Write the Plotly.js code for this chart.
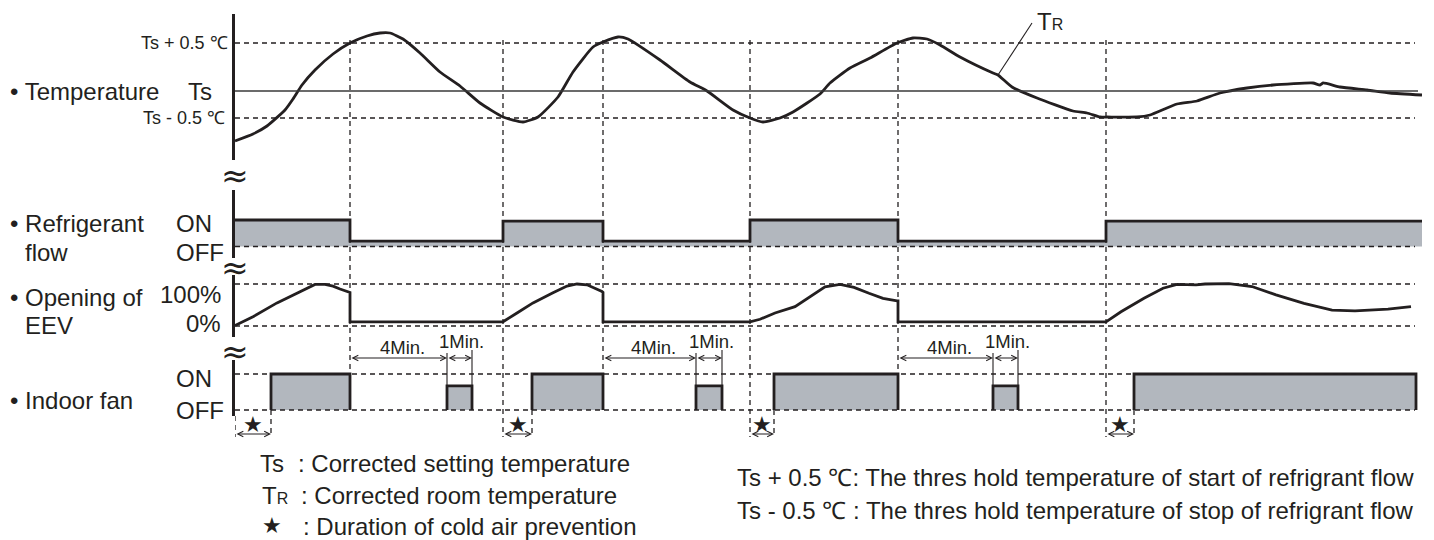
<!DOCTYPE html>
<html><head><meta charset="utf-8">
<script src="https://cdn.plot.ly/plotly-3.0.1.min.js"></script>
<style>html,body{margin:0;padding:0;background:#fff}#chart{width:1434px;height:540px}</style>
</head><body><div id="chart"></div>
<script>
// ---------------- data (time in arbitrary schematic units) ----------------
// Corrected room temperature TR, relative to Ts (schematic units)
const tempT = [0,18,32,50,58,67,80,98,115,132,145,155,168,185,205,225,245,268,288,303,323,338,358,368,383,393,425,455,472,498,515,528,545,558,585,595,615,635,662,678,692,705,725,758,763,777,802,838,852,865,872,902,915,942,962,985,1012,1038,1078,1085,1088,1105,1132,1155,1187];
const tempV = [-50,-43,-35,-19,-8,6,21,37,48,55,58,58,52,38,19,5,-12,-26,-31,-26,-6,19,44,49,54,52,31,9,0,-19,-27,-31,-27,-21,-3,8,23,33,48,53,52,46,34,18,16,4,-7,-20,-22,-26,-26,-26,-24,-13,-10,-2,3,6,8,6,8,4,1,-2,-4];
const tempLevels = [48, 0, -27];                     // Ts+0.5, Ts, Ts-0.5
const tempLabels = ['Ts + 0.5 ℃', 'Ts', 'Ts - 0.5 ℃'];

// Refrigerant flow (1 = ON, 0 = OFF line)
const refT = [0,115,268,368,515,663,871,1187];
const refV = [1,0.2,0.96,0.2,1,0.2,0.96,0.96];

// Opening of EEV (%)
const eevT = [0,18,42,65,80,90,98,105,113,115,115,268,282,298,318,332,342,352,367,368,368,515,525,540,560,577,590,605,619,634,648,662,663,663,871,886,909,928,942,961,970,994,1017,1041,1069,1097,1120,1153,1176];
const eevV = [1,22,55,82,99,99,95,88,82,80,10,10,31,55,79,95,100,98,82,80,10,10,16,31,46,72,93,99,92,78,66,60,60,10,10,34,66,90,99,98,100,101,94,74,54,38,36,40,46];

// Indoor fan pulses
const fanStart = [36,212,297,461,539,758,899];
const fanEnd   = [115,237,368,487,663,783,1181];
const fanLevel = [1,0.67,1,0.67,1,0.67,1];

// Cold air prevention durations (*)
const starStart = [0,268,515,871];
const starEnd   = [36,297,539,899];

// Refrigerant stop times (start of 4 min count)
const stopTimes = [115,368,663];
const durLabels = ['4Min.', '1Min.'];
const lineEnd = 1180;

// TR pointer: point on curve and label position
const trPoint = [763, 16];
const trLabelPos = [815, 69];

// ---------------- layout helpers ----------------
const W = 1434, H = 540, L = 235;
const INK = '#231f20';
const GREY = '#b2b7be';
const FONT = 'Liberation Sans, Arial, Helvetica, sans-serif';
const BIG = 24;
const px = xp => (xp - L) / (W - L);
const py = yp => 1 - yp / H;
function axisRange(pTop, pBot, v1, p1, v2, p2) {
  const k = (v2 - v1) / (p2 - p1);
  return [v1 + (pBot - p1) * k, v1 + (pTop - p1) * k];
}
function yax(pTop, pBot, range) {
  return {domain: [py(pBot), py(pTop)], range: range, anchor: 'x',
    showline: true, linewidth: 3, linecolor: INK, showgrid: false, zeroline: false,
    showticklabels: false, ticks: '', fixedrange: true};
}

// ---------------- traces ----------------
const traces = [];
traces.push({x: tempT, y: tempV, yaxis: 'y', type: 'scatter', mode: 'lines',
  line: {color: INK, width: 2.8, shape: 'spline', smoothing: 0.5}, hoverinfo: 'skip'});
traces.push({x: refT, y: refV, yaxis: 'y2', type: 'scatter', mode: 'lines', fill: 'tozeroy',
  fillcolor: GREY, line: {color: INK, width: 2.8, shape: 'hv'}, hoverinfo: 'skip'});
traces.push({x: eevT, y: eevV, yaxis: 'y3', type: 'scatter', mode: 'lines',
  line: {color: INK, width: 2.8}, hoverinfo: 'skip'});
for (let i = 0; i < fanStart.length; i++) {
  traces.push({x: [fanStart[i], fanStart[i], fanEnd[i], fanEnd[i]],
    y: [0, fanLevel[i], fanLevel[i], 0], yaxis: 'y4', type: 'scatter', mode: 'lines',
    fill: 'toself', fillcolor: GREY, line: {color: INK, width: 2.8}, hoverinfo: 'skip'});
}

// ---------------- shapes ----------------
const dash = {color: INK, width: 1.3, dash: '5px,4px'};
const shapes = [];
tempLevels.forEach((lv, i) => {
  shapes.push({type: 'line', xref: 'x', yref: 'y', x0: 0, x1: i === 1 ? 1183 : lineEnd, y0: lv, y1: lv,
    line: i === 1 ? {color: '#3a3a3a', width: 1.4} : dash});
});
shapes.push({type: 'line', xref: 'x', yref: 'y2', x0: 0, x1: lineEnd, y0: 0, y1: 0, line: dash});
[0, 100].forEach(v => shapes.push({type: 'line', xref: 'x', yref: 'y3', x0: 0, x1: lineEnd, y0: v, y1: v, line: dash}));
[0, 1].forEach(v => shapes.push({type: 'line', xref: 'x', yref: 'y4', x0: 0, x1: lineEnd, y0: v, y1: v, line: dash}));
for (let i = 1; i < refT.length - 1; i++) {
  const off = refV[i] < 0.5;
  shapes.push({type: 'line', xref: 'x', yref: 'paper', x0: refT[i], x1: refT[i],
    y0: py(40), y1: py(off ? 374 : 437), line: dash});
}
starEnd.forEach(t => shapes.push({type: 'line', xref: 'x', yref: 'paper', x0: t, x1: t, y0: py(410), y1: py(437), line: dash}));
shapes.push({type: 'line', xref: 'x', yref: 'paper', x0: 0, x1: 0, y0: py(416), y1: py(437), line: dash});
for (let i = 0; i < fanStart.length; i++) {
  if (fanLevel[i] < 1) {
    [fanStart[i], fanEnd[i]].forEach((t, j) => shapes.push({type: 'line', xref: 'x', yref: 'paper',
      x0: t, x1: t, y0: py(j === 0 ? 353 : 350), y1: py(386), line: {color: INK, width: 1.1}}));
  }
}
shapes.push({type: 'line', xref: 'x', yref: 'y', x0: trPoint[0], y0: trPoint[1], x1: trLabelPos[0] - 18, y1: trLabelPos[1] - 1,
  line: {color: INK, width: 1.1}});

// ---------------- annotations ----------------
const ann = [];
function lab(text, xp, yp, anchor, size, fam) {
  ann.push({xref: 'paper', yref: 'paper', x: px(xp), y: py(yp), text: text, showarrow: false,
    xanchor: anchor, yanchor: 'middle', font: {size: size, color: INK, family: fam || FONT}});
}
function dimArrow(t0, t1, yp) {
  ann.push({xref: 'x', yref: 'paper', x: t1, y: py(yp), axref: 'x', ayref: 'pixel', ax: t0, ay: 0,
    text: '', showarrow: true, arrowhead: 5, startarrowhead: 5, arrowside: 'end+start',
    arrowsize: 1, startarrowsize: 1, arrowwidth: 1.1, arrowcolor: INK, standoff: 0, startstandoff: 0});
}
lab('• Temperature', 8, 91, 'left', BIG);
lab(tempLabels[1], 186, 91, 'left', BIG);
lab(tempLabels[0], 230, 43, 'right', 18);
lab(tempLabels[2], 227, 118, 'right', 18);
lab('• Refrigerant', 8, 223, 'left', BIG);
lab('flow', 23, 252, 'left', BIG);
lab('ON', 174, 223, 'left', BIG);
lab('OFF', 174, 252, 'left', BIG);
lab('• Opening of', 8, 297, 'left', BIG);
lab('EEV', 23, 325, 'left', BIG);
lab('100%', 223, 294, 'right', BIG);
lab('0%', 223, 323, 'right', BIG);
lab('ON', 174, 378, 'left', BIG);
lab('OFF', 174, 410, 'left', BIG);
lab('• Indoor fan', 8, 400, 'left', BIG);
[175, 268, 351].forEach(yp => lab('≈', 235, yp, 'center', 33, 'DejaVu Sans'));
ann.push({xref: 'x', yref: 'y', x: trLabelPos[0], y: trLabelPos[1], showarrow: false,
  text: 'T<span style="font-size:16px">R</span>', xanchor: 'center', yanchor: 'middle',
  font: {size: BIG, color: INK, family: FONT}});
let k = 0;
for (let i = 0; i < fanStart.length; i++) {
  if (fanLevel[i] < 1) {
    const s = stopTimes[k++];
    dimArrow(s, fanStart[i], 358);
    dimArrow(fanStart[i], fanEnd[i], 358);
    ann.push({xref: 'x', yref: 'paper', x: (s + fanStart[i]) / 2 + 4, y: py(347), text: durLabels[0], showarrow: false,
      xanchor: 'center', yanchor: 'middle', font: {size: 18.5, color: INK, family: FONT}});
    ann.push({xref: 'x', yref: 'paper', x: (fanStart[i] + fanEnd[i]) / 2 + 2, y: py(341), text: durLabels[1], showarrow: false,
      xanchor: 'center', yanchor: 'middle', font: {size: 18.5, color: INK, family: FONT}});
  }
}
for (let i = 0; i < starStart.length; i++) {
  dimArrow(starStart[i], starEnd[i], 434);
  ann.push({xref: 'x', yref: 'paper', x: (starStart[i] + starEnd[i]) / 2, y: py(424), text: '★', showarrow: false,
    xanchor: 'center', yanchor: 'middle', font: {size: 22, color: INK, family: 'DejaVu Sans'}});
}
lab('Ts', 258, 463, 'left', BIG);
lab(': Corrected setting temperature', 296, 463, 'left', BIG);
lab('T<span style="font-size:16px">R</span>', 260, 495, 'left', BIG);
lab(': Corrected room temperature', 299, 495, 'left', BIG);
lab('★', 260, 525, 'left', 22, 'DejaVu Sans');
lab(': Duration of cold air prevention', 301, 526, 'left', BIG);
lab('Ts + 0.5 ℃: The thres hold temperature of start of refrigrant flow', 735, 477, 'left', BIG);
lab('Ts - 0.5 ℃ : The thres hold temperature of stop of refrigrant flow', 735, 510, 'left', BIG);

// ---------------- layout ----------------
const layout = {
  width: W, height: H, margin: {l: L, r: 0, t: 0, b: 0, pad: 0},
  paper_bgcolor: '#fff', plot_bgcolor: '#fff', showlegend: false,
  font: {family: FONT, color: INK},
  xaxis: {range: [0, W - L], visible: false, fixedrange: true, domain: [0, 1]},
  yaxis:  yax(14, 160, axisRange(14, 160, tempLevels[0], 43, tempLevels[2], 118)),
  yaxis2: yax(190, 258, axisRange(190, 258, 0, 246.5, 1, 220)),
  yaxis3: yax(275, 337, axisRange(275, 337, 0, 326, 100, 284)),
  yaxis4: yax(360, 416, axisRange(360, 416, 0, 410, 1, 374)),
  shapes: shapes, annotations: ann
};
Plotly.newPlot('chart', traces, layout, {displayModeBar: false, staticPlot: true});
</script></body></html>
